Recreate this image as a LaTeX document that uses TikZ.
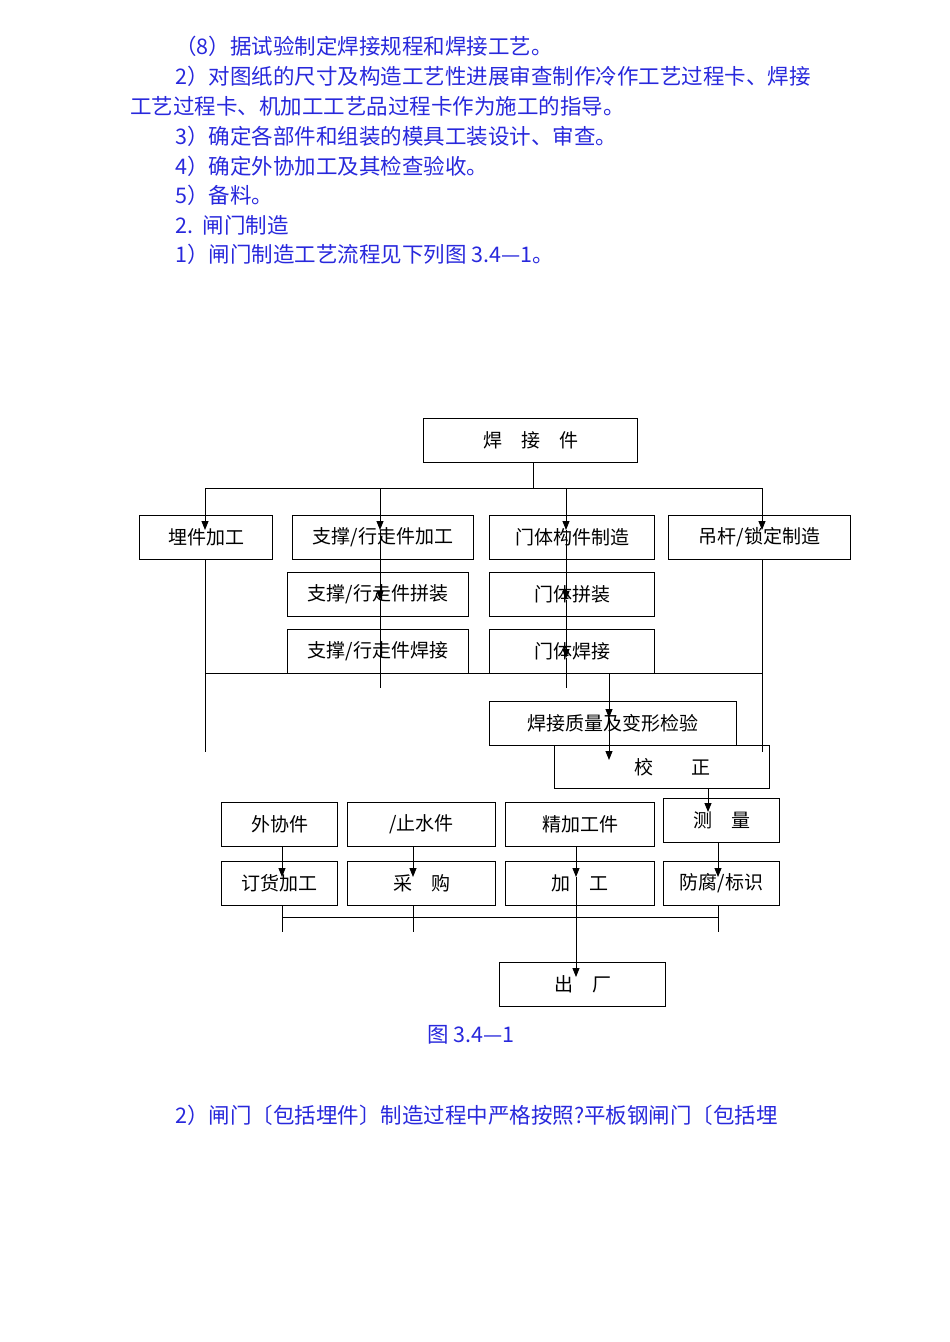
\documentclass[tikz,border=0pt]{standalone}
\usepackage{fontspec}
\newfontfamily\cjk{Noto Sans CJK SC}
\usetikzlibrary{arrows.meta}
\definecolor{tb}{RGB}{40,40,220}
\begin{document}
\begin{tikzpicture}[x=1pt,y=-1pt,
  bx/.style={draw,line width=1pt,anchor=north west,inner sep=0pt,font=\cjk\fontsize{19pt}{21pt}\selectfont},
  tl/.style={anchor=west,text=tb,inner sep=0pt,font=\cjk\fontsize{21.5pt}{23pt}\selectfont},
  ln/.style={line width=0.9pt},
  ar/.style={line width=0.9pt,-{Triangle[length=9pt,width=7pt]}}]
\useasboundingbox (0,0) rectangle (950,1342);
\node[tl] (t1) at (175,46) {（8）据试验制定焊接规程和焊接工艺。};
\node[tl] (t2) at (175,76) {2）对图纸的尺寸及构造工艺性进展审查制作冷作工艺过程卡、焊接};
\node[tl] (t3) at (130,106) {工艺过程卡、机加工工艺品过程卡作为施工的指导。};
\node[tl] (t4) at (175,136) {3）确定各部件和组装的模具工装设计、审查。};
\node[tl] (t5) at (175,166) {4）确定外协加工及其检查验收。};
\node[tl] (t6) at (175,195) {5）备料。};
\node[tl] (t7) at (175,225) {2.\ \ 闸门制造};
\node[tl] (t8) at (175,254) {1）闸门制造工艺流程见下列图 3.4—1。};
\node[tl,anchor=center] (t9) at (471,1035) {图 3.4—1};
\node[tl] (t10) at (175,1115) {2）闸门〔包括埋件〕制造过程中严格按照?平板钢闸门〔包括埋};
% boxes
\node[bx,minimum width=214,minimum height=44] (hjj) at (423,418) {焊\quad 接\quad 件};
\node[bx,minimum width=133,minimum height=44] (mj) at (139,515) {埋件加工};
\node[bx,minimum width=181,minimum height=44] (zc1) at (292,515) {支撑/行走件加工};
\node[bx,minimum width=165,minimum height=44] (mt1) at (489,515) {门体构件制造};
\node[bx,minimum width=182,minimum height=44] (dg) at (668,515) {吊杆/锁定制造};
\node[bx,minimum width=181,minimum height=44] (zc2) at (287,572) {支撑/行走件拼装};
\node[bx,minimum width=165,minimum height=44] (mt2) at (489,572) {门体拼装};
\node[bx,minimum width=181,minimum height=44] (zc3) at (287,629) {支撑/行走件焊接};
\node[bx,minimum width=165,minimum height=44] (mt3) at (489,629) {门体焊接};
\node[bx,minimum width=247,minimum height=44] (zl) at (489,701) {焊接质量及变形检验};
\node[bx,minimum width=215,minimum height=43] (jz) at (554,745) {\hspace{20pt}校\qquad 正};
\node[bx,minimum width=116,minimum height=44] (wx) at (221,802) {外协件};
\node[bx,minimum width=148,minimum height=44] (zs) at (347,802) {/止水件};
\node[bx,minimum width=149,minimum height=44] (jj) at (505,802) {精加工件};
\node[bx,minimum width=116,minimum height=44] (cl) at (663,798) {测\quad 量};
\node[bx,minimum width=116,minimum height=44] (dh) at (221,861) {订货加工};
\node[bx,minimum width=148,minimum height=44] (cg) at (347,861) {采\quad 购};
\node[bx,minimum width=149,minimum height=44] (jg) at (505,861) {加\quad 工};
\node[bx,minimum width=116,minimum height=44] (ff) at (663,861) {防腐/标识};
\node[bx,minimum width=166,minimum height=44] (cc) at (499,962) {出\quad 厂};
% connectors
\coordinate (h0) at (533,462);
\coordinate (h1) at (533,488);
\draw[ln] (h0) -- (h1);
\draw[ln] (205,488) -- (762,488);
\draw[ar] (205,488) -- (205,530);
\draw[ar] (380,488) -- (380,530);
\draw[ar] (566,488) -- (566,530);
\draw[ar] (762,488) -- (762,530);
\draw[ar] (380,530) -- (380,600);
\draw[ln] (380,600) -- (380,688);
\draw[ar] (566,530) -- (566,600);
\draw[ar] (566,600) -- (566,658);
\draw[ln] (566,658) -- (566,688);
\draw[ln] (205,559) -- (205,752);
\draw[ln] (762,559) -- (762,752);
\draw[ln] (205,673) -- (762,673);
\draw[ar] (609,673) -- (609,718);
\draw[ar] (609,718) -- (609,760);
\draw[ar] (708,788) -- (708,812);
\draw[ar] (282,846) -- (282,877);
\draw[ar] (413,846) -- (413,877);
\draw[ar] (576,846) -- (576,877);
\draw[ar] (718,842) -- (718,877);
\draw[ln] (282,905) -- (282,932);
\draw[ln] (413,905) -- (413,932);
\draw[ln] (718,905) -- (718,932);
\draw[ln] (282,917) -- (718,917);
\draw[ar] (576,877) -- (576,977);
\end{tikzpicture}
\end{document}
